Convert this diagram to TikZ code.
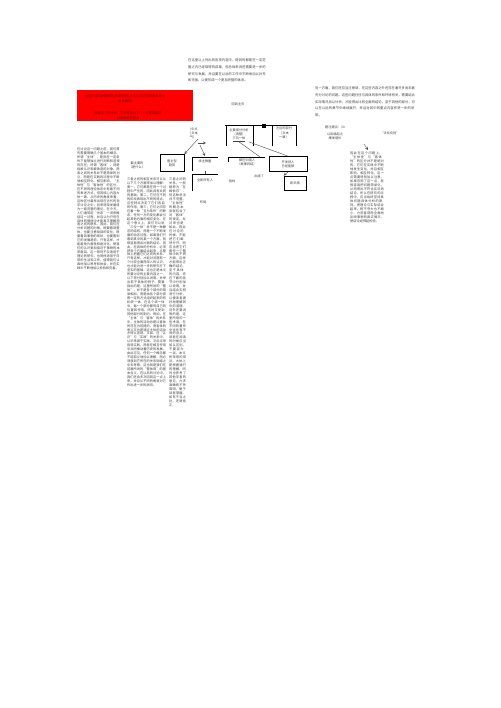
\documentclass[tikz,border=0pt]{standalone}
\usepackage{fontspec}
\newfontfamily\cjk{Noto Sans CJK SC}
\XeTeXlinebreaklocale "zh"
\XeTeXlinebreakskip=0pt plus 1pt
\usetikzlibrary{positioning}
\tikzset{
  txt/.style={font=\cjk\fontsize{3.2}{3.95}\selectfont,inner sep=0pt,align=left,anchor=north west,text=black!75},
  note/.style={txt,font=\cjk\fontsize{3.3}{6.6}\selectfont},
  lbl/.style={font=\cjk\fontsize{3.2}{4.2}\selectfont,inner sep=0pt,align=center,text=black!75},
  frame/.style={draw,line width=0.7pt},
  wire/.style={draw,line width=0.4pt,black!70},
  arr/.style={wire,-stealth}
}
\begin{document}
\begin{tikzpicture}[x=1pt,y=-1pt]
  \useasboundingbox[fill=white] (0,0) rectangle (500,708);
  % top notes
  \node[note,text width=78] (topnote) at (188,59) {在这里以上列出的各项内容中，提到的都是在一定范围之内已经取得的成果，但总体来说还需要进一步的研究与发展，并且要在以后的工作中不断地加以补充和完善，以便形成一个更加完整的体系。};
  \node[note,text width=100] (side) at (315,87) {另一方面，我们还应当注意到，在这些内容之外还存在着许多尚未被充分讨论的问题。这些问题往往与具体的条件和环境有关，需要结合实际情况加以分析，才能得出比较全面的结论。至于其他的部分，可以在以后的章节中继续展开，并且对其中的重点内容作进一步的说明。};
  \node[lbl] (home) at (238,104) {回到主页};
  % red banner
  \node[fill=red,minimum width=116,minimum height=31,anchor=north west,inner sep=0pt] (banner) at (77,90) {};
  \node[lbl,text=red!45!black,anchor=north] (b1) at (125,95) {主要内容与关键概念之间的相互关系以及它们的基本结构\\（总体框架）};
  \node[lbl,text=red!45!black,anchor=north] (b2) at (128,112) {根据以上的分析，可以得到以下几个方面的结论\\以及相关的意义};
  % left heading
  \node[lbl] (sub) at (193,133) {（中文\\（文本\\气）};
  % top group
  \draw[frame] (225,125) -- (297,125);
  \draw[frame] (226,125) -- (226,146);
  \draw[frame] (253,125) -- (253,146);
  \draw[frame] (272,125) -- (272,146);
  \draw[frame] (296,125) -- (296,146);
  \fill (262,124) rectangle (266,128);
  \node[lbl] (grpA) at (239,135) {主要成分分析\\（调整）\\\underline{三位一体}};
  \node[lbl] (grpB) at (284,133) {左边的部分\\（文本\\一致）};
  % boxes
  \node[frame,lbl,minimum width=24,minimum height=17] (kan) at (172,163) {看主型\\趋势};
  \node[frame,lbl,minimum width=38,minimum height=15] (kaifa) at (288,164) {开发技人\\已经能够};
  \node[frame,lbl,minimum width=22,minimum height=14] (xinhua) at (295,183) {新华族};
  % brackets
  \draw[frame] (192,171) -- (192,157) -- (218,157);
  \node[lbl] (xu) at (205,161) {续主数量};
  \draw[frame] (228,162) -- (228,157) -- (265,157);
  \node[lbl] (dou) at (247,162) {都在中国人\\（故事将结）};
  \draw[frame] (192,191) -- (192,174) -- (218,174);
  \node[lbl] (quan) at (205,180) {全新所有人};
  \node[lbl] (zhi) at (232,181) {指标};
  \node[lbl] (chu) at (259,176) {出版 T};
  \node[lbl] (bu) at (203,202) {布局};
  % connectors
  \draw[arr] (sub.south east) -- (kan.north east);
  \draw[arr] (198,143) -- (206,143);
  \draw[arr] (200,145) -- (205,156);
  \draw[wire] (205,171) -- (205,174);
  \draw[wire] (grpA.south) -- (260,157);
  \draw[wire] (grpA.south east) -- (kaifa.north);
  \draw[arr] (kaifa.south) -- (xinhua.north west);
  % right side
  \node[lbl] (ti) at (335,127) {题注建议：30};
  \node[lbl] (yiji) at (335,136) {以及缘起之\\爆发增长};
  \node[lbl] (fa) at (390,133) {“法化化别”};
  \draw[arr] (364,144) -- (368,150);
  \node[txt,text width=35] (colR) at (350,152) {因此在这个问题上，“主体性”与“客体性”的区分并不是绝对的。它们在实践中不断地发生变化，并且相互影响、相互转化，这一点需要特别加以注意。如果忽视了这一点，就很容易把问题简单化，从而得出不符合实际的结论。所以在研究的过程中，应当始终坚持具体问题具体分析的原则，把理论与实际结合起来，既不夸大也不缩小，力求客观而全面地反映事物的真实情况，使结论经得起检验。};
  % columns
  \node[txt,text width=43] (colA) at (77,148) {在讨论这一问题之前，我们首先需要明确几个基本的概念。所谓“主体”，是指在一定条件下能够独立进行判断和选择的存在；所谓“客体”，则是指被认识和被改造的对象。两者之间的关系并不是简单的对立，而是在实践的过程中不断地相互转化、相互影响。“主体性”与“客体性”的区分，在不同的理论体系中有着不同的表述方式，但其核心内容大体一致。从历史的角度来看，这种区分最早出现在古代的哲学讨论之中，后来逐渐发展成为一套完整的理论。在今天，人们通常用“关系”一词来概括这一过程，并且认为只有在具体的情境中才能真正理解两者之间的联系。因此，我们在分析问题的时候，既要看到整体，也要注意局部的变化；既要看到事物的现状，也要看到它的发展趋势。只有这样，才能避免片面性和绝对化，使我们的认识更加接近于事物的本来面目。这一原则不仅适用于理论的研究，也同样适用于日常的生活和工作，值得我们认真地加以思考和体会，并在实践中不断地加以检验和完善。};
  \node[lbl] (zui) at (137,165) {最主要的\\（是什么）};
  \node[txt,text width=39] (colB) at (127,178) {三者之间的相互关系可以从以下几个方面来加以理解：第一，它们都是在同一个过程中产生的，因此具有共同的基础；第二，它们在不同的阶段表现出不同的特点，这些特点决定了它们各自的作用；第三，它们之间存在着一种“互为条件”的联系，任何一方的变化都会引起其他方面的相应变化。在这个意义上，我们可以说“三位一体”并不是一种静态的结构，而是一个不断发展的动态过程。如果我们只看到其中的某一个方面，就很容易得出片面的结论。因此，在具体的分析中，必须把各个方面结合起来，从整体上把握它们之间的关系。只有这样，才能对问题有一个比较全面而深入的认识，也才能为进一步的研究打下坚实的基础。这也正是本文所要讨论的主要内容之一，以下将分别加以说明，并举出若干具体的例子。需要指出的是，这里所说的“整体”，并不是各个部分的简单相加，而是由各个部分按照一定的方式组织起来的有机统一体。在这个统一体中，每一个部分都有自己的位置和作用，同时又受到其他部分的制约。例如，在“主体”与“客体”的关系中，主体的活动总是以客体的存在为前提的，而客体的意义又总是通过主体的活动才得以显现。又如，在“认识”与“实践”的关系中，认识来源于实践，又反过来指导实践，两者在相互作用中共同推动着历史的发展。由此可见，任何一个概念都不能孤立地加以理解，而必须放到它所在的关系网络之中去考察。这也就是我们在前面所说的“整体观”的基本含义。在以后的讨论中，我们还会多次回到这一点上来，并且从不同的角度对它作出进一步的说明。};
  \node[txt,text width=18] (colC) at (169,178) {三者之间的关系，一般被称为“互相依存”，但这种说法并不完整。“主体性”的概念本身就包含了对“客体”的规定，反过来也是如此。因此在讨论的时候，不能把它们截然分开，而应当把它们看作一个整体中的不同方面，这样才能得出正确的结论。至于具体的内容，将在下面的各节中分别加以说明，并且结合实例进行分析，以便读者更好地理解其中的道理。另外还要说明的是，这里所用的一些术语，在不同的著作中往往有不同的含义，读者在阅读的时候应当加以区别，不要混为一谈。本文所采用的用法，大体上是根据通行的理解，同时也参考了其他学者的意见，力求准确而不失简明，便于读者掌握。如有不当之处，还请指正。};
\end{tikzpicture}
\end{document}
